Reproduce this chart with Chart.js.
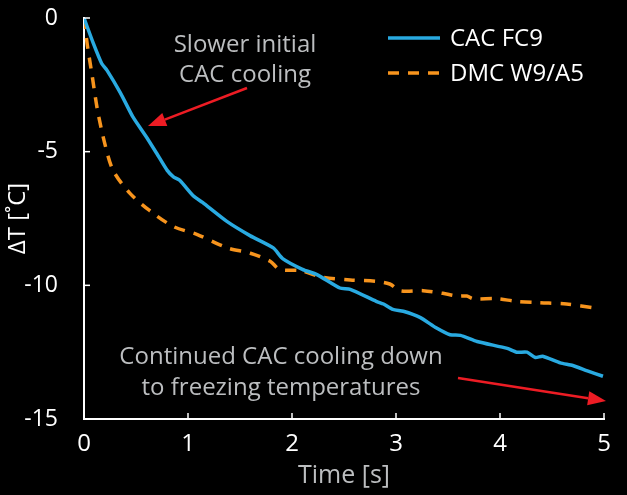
<!DOCTYPE html>
<html>
<head>
<meta charset="utf-8">
<script src="https://cdn.jsdelivr.net/npm/chart.js@4"></script>
<style>
  html, body { margin: 0; padding: 0; background: #000; }
  #wrap { width: 627px; height: 495px; }
</style>
</head>
<body>
<div id="wrap"><canvas id="cool"></canvas></div>
<script>
// data (time in s, temperature change in degC)
const cacTime = [0, 0.09, 0.17, 0.22, 0.35, 0.47, 0.6, 0.7, 0.8, 0.86, 0.92, 1.05, 1.14, 1.37, 1.6, 1.82, 1.91, 2.1, 2.24, 2.46, 2.56, 2.81, 2.88, 2.97, 3.07, 3.23, 3.39, 3.52, 3.62, 3.78, 4.07, 4.16, 4.26, 4.34, 4.41, 4.58, 4.7, 4.84, 4.99];
const cacDT   = [0, -0.95, -1.7, -1.95, -2.8, -3.7, -4.45, -5.07, -5.7, -5.94, -6.07, -6.65, -6.9, -7.6, -8.15, -8.6, -9.0, -9.4, -9.6, -10.1, -10.15, -10.6, -10.7, -10.9, -10.97, -11.2, -11.6, -11.85, -11.87, -12.1, -12.36, -12.5, -12.5, -12.7, -12.65, -12.9, -13.0, -13.2, -13.4];
const dmcTime = [0, 0.03, 0.08, 0.13, 0.2, 0.28, 0.44, 0.63, 0.86, 1.09, 1.38, 1.6, 1.79, 1.88, 2.08, 2.3, 2.56, 2.81, 2.94, 3.04, 3.26, 3.45, 3.59, 3.68, 3.74, 3.97, 4.16, 4.38, 4.64, 4.92];
const dmcDT   = [0, -0.95, -2.2, -3.45, -4.7, -5.7, -6.55, -7.2, -7.8, -8.1, -8.6, -8.8, -9.1, -9.4, -9.45, -9.7, -9.8, -9.85, -9.95, -10.2, -10.2, -10.3, -10.4, -10.4, -10.5, -10.5, -10.6, -10.65, -10.7, -10.85];
const xTicks = [0, 1, 2, 3, 4, 5];
const yTicks = [0, -5, -10, -15];

const FONT = '"Open Sans", Lato, sans-serif';
const BLUE = '#29aae1';
const ORANGE = '#f7941d';

function pts(xs, ys) { return xs.map((x, i) => ({ x: x, y: ys[i] })); }

function arrow(ctx, x1, y1, x2, y2) {
  const a = Math.atan2(y2 - y1, x2 - x1);
  const len = 18, w = 7;
  const bx = x2 - len * Math.cos(a), by = y2 - len * Math.sin(a);
  ctx.strokeStyle = '#ed1c24';
  ctx.fillStyle = '#ed1c24';
  ctx.lineWidth = 2.5;
  ctx.beginPath(); ctx.moveTo(x1, y1); ctx.lineTo(bx, by); ctx.stroke();
  ctx.beginPath();
  ctx.moveTo(x2, y2);
  ctx.lineTo(bx + w * Math.sin(a), by - w * Math.cos(a));
  ctx.lineTo(bx - w * Math.sin(a), by + w * Math.cos(a));
  ctx.closePath(); ctx.fill();
}

// inward ticks, legend, notes
const extras = {
  id: 'extras',
  afterDraw(chart) {
    const ctx = chart.ctx, xs = chart.scales.x, ys = chart.scales.y;
    ctx.save();
    ctx.strokeStyle = '#fff';
    ctx.lineWidth = 1.5;
    xTicks.forEach(t => {
      if (t === 0) return;
      const px = xs.getPixelForValue(t);
      ctx.beginPath(); ctx.moveTo(px, ys.bottom); ctx.lineTo(px, ys.bottom - 6); ctx.stroke();
    });
    yTicks.forEach(t => {
      if (t === -15) return;
      const py = ys.getPixelForValue(t);
      ctx.beginPath(); ctx.moveTo(xs.left, py); ctx.lineTo(xs.left + 6, py); ctx.stroke();
    });

    // legend
    ctx.lineWidth = 3.5;
    ctx.strokeStyle = BLUE;
    ctx.beginPath(); ctx.moveTo(388, 38); ctx.lineTo(440, 38); ctx.stroke();
    ctx.strokeStyle = ORANGE;
    ctx.setLineDash([11, 9]);
    ctx.beginPath(); ctx.moveTo(388, 73); ctx.lineTo(440, 73); ctx.stroke();
    ctx.setLineDash([]);
    ctx.fillStyle = '#fff';
    ctx.font = '24px ' + FONT;
    ctx.textAlign = 'left';
    ctx.textBaseline = 'middle';
    ctx.fillText('CAC FC9', 450, 39);
    ctx.fillText('DMC W9/A5', 450, 74);

    // notes
    ctx.fillStyle = '#bcbec0';
    ctx.font = '24px ' + FONT;
    ctx.textAlign = 'center';
    ctx.fillText('Slower initial', 245, 45);
    ctx.fillText('CAC cooling', 245, 75);
    ctx.fillText('Continued CAC cooling down', 281, 357);
    ctx.fillText('to freezing temperatures', 281, 388);
    arrow(ctx, 247, 88, 148, 126);
    arrow(ctx, 458, 378, 606, 401);
    ctx.restore();
  }
};

new Chart(document.getElementById('cool'), {
  type: 'line',
  data: {
    datasets: [
      { label: 'CAC FC9', data: pts(cacTime, cacDT), borderColor: BLUE, borderWidth: 3.5, pointRadius: 0, tension: 0.2, fill: false },
      { label: 'DMC W9/A5', data: pts(dmcTime, dmcDT), borderColor: ORANGE, borderWidth: 3.5, borderDash: [11, 9], pointRadius: 0, tension: 0.3, fill: false }
    ]
  },
  options: {
    responsive: true,
    maintainAspectRatio: false,
    animation: false,
    layout: { padding: { top: 18, right: 23, left: 0, bottom: 0 } },
    plugins: { legend: { display: false }, tooltip: { enabled: false } },
    scales: {
      x: {
        type: 'linear', min: 0, max: 5,
        afterFit(s) { s.height = 76; s.paddingLeft = 0; s.paddingRight = 0; },
        afterBuildTicks(s) { s.ticks = xTicks.map(v => ({ value: v })); },
        grid: { display: false, drawTicks: false },
        border: { display: true, color: '#fff', width: 2 },
        ticks: { color: '#fff', font: { family: FONT, size: 24 }, padding: 11 },
        title: { display: true, text: 'Time [s]', color: '#bcbec0', font: { family: FONT, size: 25 }, padding: { top: 0 } }
      },
      y: {
        type: 'linear', min: -15, max: 0,
        afterFit(s) { s.width = 84; s.paddingTop = 0; s.paddingBottom = 0; },
        afterBuildTicks(s) { s.ticks = yTicks.map(v => ({ value: v })); },
        grid: { display: false, drawTicks: false },
        border: { display: true, color: '#fff', width: 2 },
        ticks: { color: '#fff', font: { family: FONT, size: 23 }, padding: 26 },
        title: { display: true, text: 'ΔT [˚C]', color: '#fff', font: { family: FONT, size: 24 }, padding: { bottom: 0 } }
      }
    }
  },
  plugins: [extras]
});
</script>
</body>
</html>
